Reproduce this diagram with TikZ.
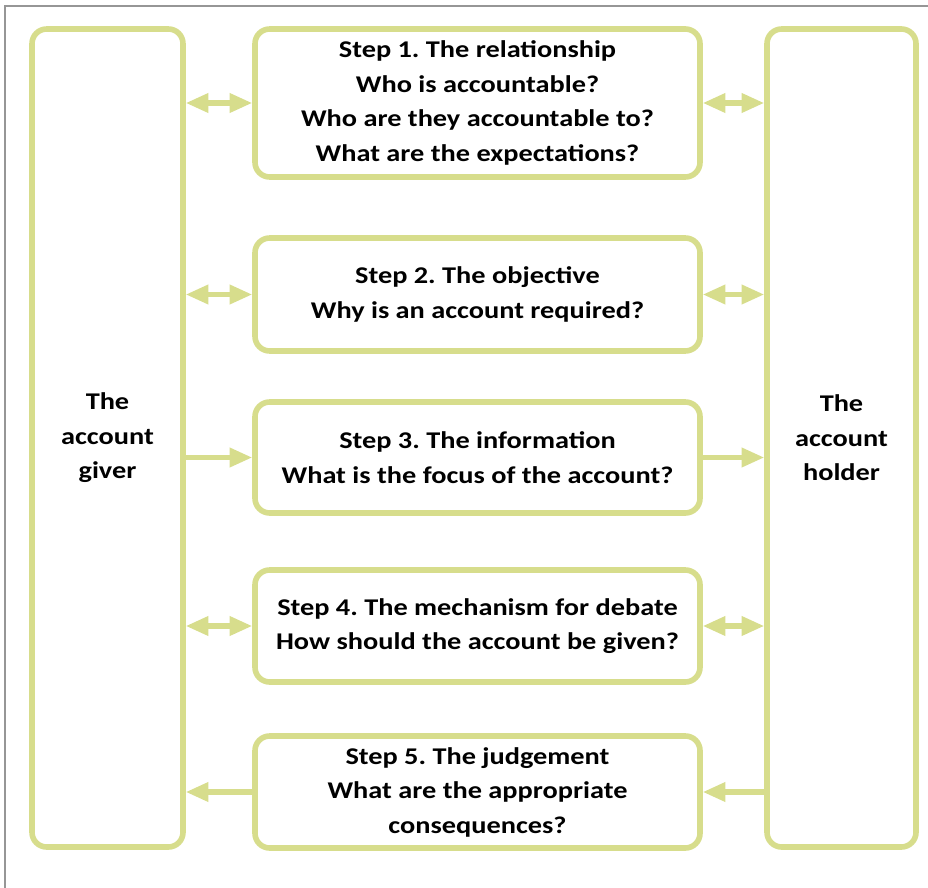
\documentclass[tikz,border=0pt]{standalone}
\usepackage{fontspec}
\setmainfont{Carlito}[FakeStretch=1.18]
\usetikzlibrary{positioning,arrows.meta}
\definecolor{boxline}{RGB}{215,221,140}
\definecolor{frameline}{RGB}{150,150,150}
\tikzset{
    box/.style={draw=boxline, line width=4.2pt, outer sep=0pt, rounded corners=11pt, align=center, font=\fontsize{18}{25.9}\selectfont\bfseries, inner sep=2pt},
    link/.style={draw=boxline, line width=3.8pt, shorten >=2.1pt, shorten <=2.1pt},
    tip/.tip={Triangle[length=17pt, width=14pt]},
}

\begin{document}
\frenchspacing
\begin{tikzpicture}
  \useasboundingbox (0,0) rectangle (696pt,-666pt);
  \draw[frameline, line width=0.8pt] (3.75pt,-666pt) |- (696pt,-4.5pt);

  \node [box, minimum width=113.25pt, minimum height=613.5pt, anchor=north west] (giver) at (24pt,-21.75pt)
    {The\\account\\giver};

  \node [box, minimum width=333.75pt, minimum height=111pt, right=54pt of giver.north east, anchor=north west] (relation)
    {Step 1. The relationship\\Who is accountable?\\Who are they accountable to?\\What are the expectations?};
  \node [box, minimum width=333.75pt, minimum height=84.75pt, below=45.75pt of relation.south west, anchor=north west] (objective)
    {Step 2. The objective\\Why is an account required?};
  \node [box, minimum width=333.75pt, minimum height=83.25pt, below=38.25pt of objective.south west, anchor=north west] (information)
    {Step 3. The information\\What is the focus of the account?};
  \node [box, minimum width=333.75pt, minimum height=84pt, below=42.75pt of information.south west, anchor=north west] (mechanism)
    {Step 4. The mechanism for debate\\How should the account be given?};
  \node [box, minimum width=333.75pt, minimum height=84pt, below=40.5pt of mechanism.south west, anchor=north west] (judgement)
    {Step 5. The judgement\\What are the appropriate\\consequences?};

  \node [box, minimum width=111.75pt, minimum height=613.5pt, right=50.25pt of relation.north east, anchor=north west] (holder)
    {The\\account\\holder};

  % giver side
  \draw[link, tip-tip] (giver.east |- relation.west) -- (relation.west);
  \draw[link, tip-tip] (giver.east |- objective.west) -- (objective.west);
  \draw[link, -tip] (giver.east |- information.west) -- (information.west);
  \draw[link, tip-tip] (giver.east |- mechanism.west) -- (mechanism.west);
  \draw[link, tip-] (giver.east |- judgement.west) -- (judgement.west);

  % holder side
  \draw[link, tip-tip] (relation.east) -- (holder.west |- relation.east);
  \draw[link, tip-tip] (objective.east) -- (holder.west |- objective.east);
  \draw[link, -tip] (information.east) -- (holder.west |- information.east);
  \draw[link, tip-tip] (mechanism.east) -- (holder.west |- mechanism.east);
  \draw[link, tip-] (judgement.east) -- (holder.west |- judgement.east);
\end{tikzpicture}
\end{document}
